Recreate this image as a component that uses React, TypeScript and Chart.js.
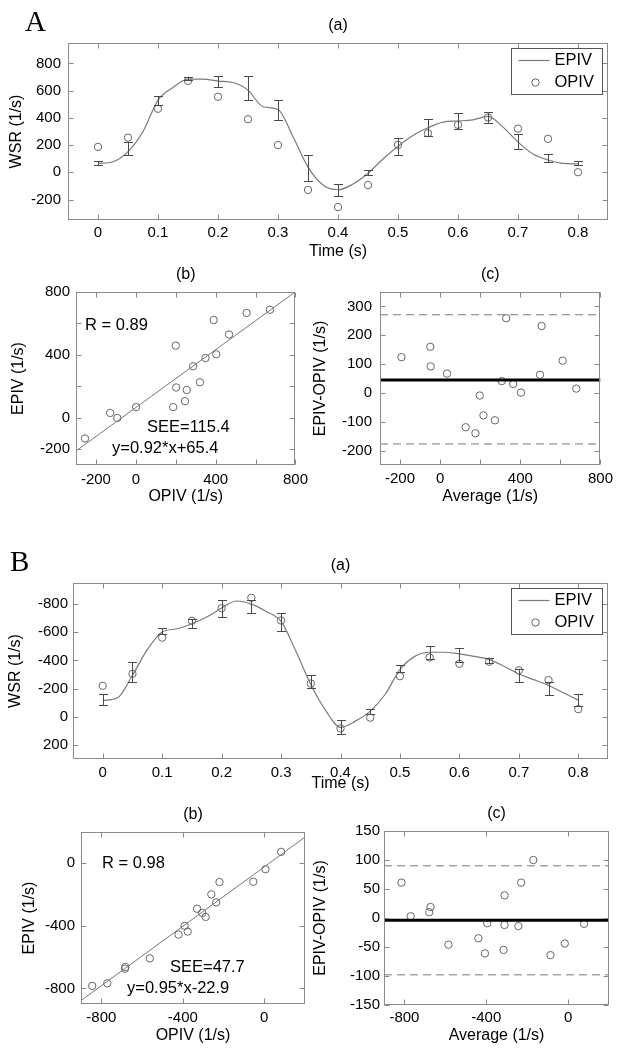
import React, { useEffect, useRef } from "react";
import { Chart, registerables } from "chart.js";

Chart.register(...registerables);

const FONT = "Arial, 'Liberation Sans', Helvetica, sans-serif";
const SERIF = "'Times New Roman', 'Liberation Serif', Times, serif";

// ---------------- data ----------------
const TIME = [0, 0.05, 0.1, 0.15, 0.2, 0.25, 0.3, 0.35, 0.4, 0.45, 0.5, 0.55, 0.6, 0.65, 0.7, 0.75, 0.8];
const CURVE_TIME = [0, 0.025, 0.05, 0.075, 0.1, 0.125, 0.15, 0.175, 0.2, 0.225, 0.25, 0.275, 0.3, 0.325, 0.35, 0.375, 0.4,
  0.425, 0.45, 0.475, 0.5, 0.525, 0.55, 0.575, 0.6, 0.625, 0.65, 0.675, 0.7, 0.725, 0.75, 0.775, 0.8];

// Panel A
const A_OPIV = [187, 255, 467, 672, 555, 390, 200, -129, -255, -93, 202, 287, 349, 403, 321, 246, 1];
const A_EPIV = [68, 177, 530, 687, 667, 622, 459, 31, -131, -1, 193, 328, 380, 404, 226, 106, 68];
const A_EPIV_SD = [16, 46, 33, 10, 42, 88, 76, 93, 42, 15, 62, 63, 59, 41, 55, 31, 15];
const A_EPIV_CURVE = [66, 78, 152, 300, 531, 624, 685, 685, 670, 660, 604, 482, 462, 262, 38, -93, -128,
  -86, -7, 98, 192, 271, 327, 369, 377, 386, 411, 332, 222, 135, 91, 66, 62];
const A_R = "R = 0.89";
const A_SEE = "SEE=115.4";
const A_EQ = "y=0.92*x+65.4";
const A_SLOPE = 0.92;
const A_INTERCEPT = 65.4;
const A_MEAN_DIFF = 45;
const A_LOA_UPPER = 271;
const A_LOA_LOWER = -177;

// Panel B
const B_OPIV = [-220, -305, -562, -682, -771, -845, -684, -236, 83, 6, -288, -421, -376, -391, -330, -260, -54];
const B_EPIV = [-120, -317, -608, -663, -768, -784, -674, -250, 73, -38, -343, -456, -437, -400, -291, -199, -118];
const B_EPIV_SD = [39, 71, 20, 32, 59, 45, 64, 47, 47, 19, 26, 47, 50, 15, 45, 46, 42];
const B_EPIV_CURVE = [-116, -135, -295, -477, -602, -625, -661, -708, -772, -822, -800, -748, -677, -465, -229, -45, 75,
  31, -40, -158, -335, -429, -458, -458, -446, -429, -406, -359, -304, -264, -222, -170, -118];
const B_R = "R = 0.98";
const B_SEE = "SEE=47.7";
const B_EQ = "y=0.95*x-22.9";
const B_SLOPE = 0.95;
const B_INTERCEPT = -22.9;
const B_MEAN_DIFF = -4;
const B_LOA_UPPER = 90;
const B_LOA_LOWER = -98;

// tick lists
const TS_X_TICKS = [0, 0.1, 0.2, 0.3, 0.4, 0.5, 0.6, 0.7, 0.8];
const A_TS_Y_TICKS = [-200, 0, 200, 400, 600, 800];
const A_SC_TICKS = [-200, 0, 200, 400, 600, 800];
const A_SC_LABELS = [-200, 0, 400, 800];
const A_BA_Y_TICKS = [-200, -100, 0, 100, 200, 300];
const B_TS_Y_TICKS = [-800, -600, -400, -200, 0, 200];
const B_SC_TICKS = [-800, -400, 0];
const B_BA_Y_TICKS = [-150, -100, -50, 0, 50, 100, 150];

// ---------------- styling ----------------
const AXIS = "#8a8a8a";
const CURVE = "#7a7a7a";
const MARK = "#666666";
const ERR = "#4a4a4a";
const FITC = "#777777";
const DASHC = "#777777";

const matlabPlugin: any = {
  id: "matlab",
  afterDatasetsDraw(chart: any, _args: any, opts: any) {
    const { ctx, chartArea: ca, scales } = chart;
    const xs = scales.x;
    const ys = scales.y;
    ctx.save();

    // error bars
    if (opts.errorBars) {
      const { xv, yv, ev } = opts.errorBars;
      ctx.strokeStyle = ERR;
      ctx.lineWidth = 1;
      for (let i = 0; i < xv.length; i++) {
        const px = Math.round(xs.getPixelForValue(xv[i])) + 0.5;
        const y1 = Math.round(ys.getPixelForValue(yv[i] - ev[i])) + 0.5;
        const y2 = Math.round(ys.getPixelForValue(yv[i] + ev[i])) + 0.5;
        ctx.beginPath();
        ctx.moveTo(px, y1);
        ctx.lineTo(px, y2);
        ctx.moveTo(px - 4.5, y1);
        ctx.lineTo(px + 4.5, y1);
        ctx.moveTo(px - 4.5, y2);
        ctx.lineTo(px + 4.5, y2);
        ctx.stroke();
      }
    }

    // box
    const L = Math.round(ca.left) + 0.5;
    const T = Math.round(ca.top) + 0.5;
    const R = Math.round(ca.right) - 0.5;
    const B = Math.round(ca.bottom) - 0.5;
    ctx.strokeStyle = AXIS;
    ctx.lineWidth = 1;
    ctx.strokeRect(L, T, R - L, B - T);
    // inward ticks on all four sides
    const tl = 5;
    ctx.beginPath();
    for (const t of xs.ticks) {
      const p = Math.round(xs.getPixelForValue(t.value)) + 0.5;
      ctx.moveTo(p, B);
      ctx.lineTo(p, B - tl);
      ctx.moveTo(p, T);
      ctx.lineTo(p, T + tl);
    }
    for (const t of ys.ticks) {
      const p = Math.round(ys.getPixelForValue(t.value)) + 0.5;
      ctx.moveTo(L, p);
      ctx.lineTo(L + tl, p);
      ctx.moveTo(R, p);
      ctx.lineTo(R - tl, p);
    }
    ctx.stroke();

    // panel title
    ctx.fillStyle = "#000";
    if (opts.title) {
      ctx.font = `16px ${FONT}`;
      ctx.textAlign = "center";
      ctx.textBaseline = "middle";
      ctx.fillText(opts.title, (ca.left + ca.right) / 2, ca.top - 17);
    }

    // big panel letter
    if (opts.letter) {
      ctx.font = `29px ${SERIF}`;
      ctx.textAlign = "left";
      ctx.textBaseline = "alphabetic";
      ctx.fillText(opts.letter.text, opts.letter.x, opts.letter.y);
    }

    // annotations
    if (opts.notes) {
      ctx.font = `16.5px ${FONT}`;
      ctx.textAlign = "left";
      ctx.textBaseline = "middle";
      for (const n of opts.notes) ctx.fillText(n.text, ca.left + n.dx, ca.top + n.dy);
    }

    // legend box
    if (opts.legend) {
      const ds = chart.data.datasets;
      const bw = 91;
      const bh = 46;
      const bx = Math.round(ca.right - 6 - bw) + 0.5;
      const by = Math.round(ca.top + 5) + 0.5;
      ctx.fillStyle = "#fff";
      ctx.fillRect(bx, by, bw, bh);
      ctx.strokeStyle = "#555";
      ctx.lineWidth = 1;
      ctx.strokeRect(bx, by, bw, bh);
      const r1 = by + 12;
      const r2 = by + 34;
      ctx.strokeStyle = CURVE;
      ctx.lineWidth = 1.2;
      ctx.beginPath();
      ctx.moveTo(bx + 7, r1);
      ctx.lineTo(bx + 38, r1);
      ctx.stroke();
      ctx.strokeStyle = MARK;
      ctx.lineWidth = 1;
      ctx.beginPath();
      ctx.arc(bx + 24, r2, 3.7, 0, Math.PI * 2);
      ctx.stroke();
      ctx.fillStyle = "#000";
      ctx.font = `16.5px ${FONT}`;
      ctx.textAlign = "left";
      ctx.textBaseline = "middle";
      ctx.fillText(ds[0].label, bx + 43, r1);
      ctx.fillText(ds[1].label, bx + 43, r2);
    }
    ctx.restore();
  },
};

function fmt(v: number) {
  return String(v);
}

function scaleOpts(o: any) {
  return {
    type: "linear",
    min: o.min,
    max: o.max,
    reverse: !!o.reverse,
    grid: { display: false, drawTicks: false, tickLength: 0 },
    border: { display: false },
    ticks: {
      autoSkip: false,
      maxRotation: 0,
      padding: o.pad,
      color: "#000",
      font: { family: FONT, size: 15 },
      callback: (v: number) => (o.labels ? (o.labels.includes(v) ? fmt(v) : "") : fmt(v)),
    },
    afterBuildTicks: (s: any) => {
      s.ticks = o.ticks.map((v: number) => ({ value: v }));
    },
    afterFit: (s: any) => {
      if (o.axis === "x") s.height = o.size;
      else s.width = o.size;
    },
    title: {
      display: true,
      text: o.title,
      padding: 0,
      color: "#000",
      font: { family: FONT, size: 16 },
    },
  };
}

function baseOptions(p: any, x: any, y: any, pluginOpts: any) {
  return {
    animation: false,
    responsive: false,
    maintainAspectRatio: false,
    devicePixelRatio: 1,
    layout: { padding: { left: 0, top: p.padT, right: p.padR, bottom: 0 } },
    plugins: {
      legend: { display: false },
      tooltip: { enabled: false },
      matlab: pluginOpts,
    },
    scales: {
      x: scaleOpts({ ...x, axis: "x", size: p.xH }),
      y: scaleOpts({ ...y, axis: "y", size: p.yW }),
    },
  };
}

function timeSeriesConfig(p: any, d: any) {
  return {
    type: "line",
    data: {
      datasets: [
        {
          label: "EPIV",
          data: CURVE_TIME.map((t, i) => ({ x: t, y: d.curve[i] })),
          borderColor: CURVE,
          borderWidth: 1.2,
          pointRadius: 0,
          tension: 0.4,
          cubicInterpolationMode: "monotone",
          fill: false,
        },
        {
          label: "OPIV",
          data: TIME.map((t, i) => ({ x: t, y: d.opiv[i] })),
          showLine: false,
          pointStyle: "circle",
          pointRadius: 3.7,
          borderWidth: 1,
          borderColor: MARK,
          backgroundColor: "rgba(0,0,0,0)",
        },
      ],
    },
    options: baseOptions(
      p,
      { min: -0.05, max: 0.85, ticks: TS_X_TICKS, pad: p.xPad, title: "Time (s)" },
      { min: d.yMin, max: d.yMax, reverse: d.reverse, ticks: d.yTicks, pad: p.yPad, title: "WSR (1/s)" },
      {
        title: "(a)",
        letter: d.letter,
        legend: true,
        errorBars: { xv: TIME, yv: d.epiv, ev: d.sd },
      }
    ),
    plugins: [matlabPlugin],
  };
}

function scatterConfig(p: any, d: any) {
  return {
    type: "line",
    data: {
      datasets: [
        {
          label: "fit",
          data: [
            { x: d.min, y: d.slope * d.min + d.intercept },
            { x: d.max, y: d.slope * d.max + d.intercept },
          ],
          borderColor: FITC,
          borderWidth: 1,
          pointRadius: 0,
          fill: false,
        },
        {
          label: "EPIV vs OPIV",
          data: d.opiv.map((o: number, i: number) => ({ x: o, y: d.epiv[i] })),
          showLine: false,
          pointStyle: "circle",
          pointRadius: 3.7,
          borderWidth: 1,
          borderColor: MARK,
          backgroundColor: "rgba(0,0,0,0)",
        },
      ],
    },
    options: baseOptions(
      p,
      { min: d.min, max: d.max, ticks: d.ticks, labels: d.labels, pad: p.xPad, title: "OPIV (1/s)" },
      { min: d.min, max: d.max, ticks: d.yTicks || d.ticks, labels: d.yLabels || d.labels, pad: p.yPad, title: "EPIV (1/s)" },
      { title: "(b)", notes: d.notes }
    ),
    plugins: [matlabPlugin],
  };
}

function blandAltmanConfig(p: any, d: any) {
  const avg = d.opiv.map((o: number, i: number) => (o + d.epiv[i]) / 2);
  const diff = d.opiv.map((o: number, i: number) => d.epiv[i] - o);
  const hline = (v: number) => [
    { x: d.xMin, y: v },
    { x: d.xMax, y: v },
  ];
  return {
    type: "line",
    data: {
      datasets: [
        { label: "mean", data: hline(d.mean), borderColor: "#000", borderWidth: 3, pointRadius: 0, fill: false },
        { label: "+1.96SD", data: hline(d.upper), borderColor: DASHC, borderWidth: 1, borderDash: [8, 5], pointRadius: 0, fill: false },
        { label: "-1.96SD", data: hline(d.lower), borderColor: DASHC, borderWidth: 1, borderDash: [8, 5], pointRadius: 0, fill: false },
        {
          label: "difference",
          data: avg.map((a: number, i: number) => ({ x: a, y: diff[i] })),
          showLine: false,
          pointStyle: "circle",
          pointRadius: 3.7,
          borderWidth: 1,
          borderColor: MARK,
          backgroundColor: "rgba(0,0,0,0)",
        },
      ],
    },
    options: baseOptions(
      p,
      { min: d.xMin, max: d.xMax, ticks: d.xTicks, labels: d.xLabels, pad: p.xPad, title: "Average (1/s)" },
      { min: d.yMin, max: d.yMax, ticks: d.yTicks, pad: p.yPad, title: "EPIV-OPIV (1/s)" },
      { title: "(c)" }
    ),
    plugins: [matlabPlugin],
  };
}

// ---------------- panels (layout geometry) ----------------
const PANELS: any[] = [
  {
    key: "Aa",
    area: [68, 43, 608, 220], yW: 61, xH: 41, padT: 43, padR: 8, xPad: 4, yPad: 7,
    build: (p: any) =>
      timeSeriesConfig(p, {
        curve: A_EPIV_CURVE, opiv: A_OPIV, epiv: A_EPIV, sd: A_EPIV_SD,
        yMin: -350, yMax: 950, reverse: false, yTicks: A_TS_Y_TICKS,
        letter: { text: "A", x: 25 - 7, y: 30.5 },
      }),
  },
  {
    key: "Ab",
    area: [76, 292, 298, 465], yW: 67, xH: 41, padT: 30, padR: 16, xPad: 6, yPad: 6,
    build: (p: any) =>
      scatterConfig(p, {
        opiv: A_OPIV, epiv: A_EPIV, min: -300, max: 800, ticks: A_SC_TICKS, labels: A_SC_LABELS,
        slope: A_SLOPE, intercept: A_INTERCEPT,
        notes: [
          { text: A_R, dx: 9, dy: 33 },
          { text: A_SEE, dx: 71, dy: 135 },
          { text: A_EQ, dx: 36, dy: 156 },
        ],
      }),
  },
  {
    key: "Ac",
    area: [380, 292, 602, 465], yW: 69, xH: 41, padT: 30, padR: 16, xPad: 5, yPad: 8,
    build: (p: any) =>
      blandAltmanConfig(p, {
        opiv: A_OPIV, epiv: A_EPIV, xMin: -300, xMax: 800, xTicks: A_SC_TICKS, xLabels: A_SC_LABELS,
        yMin: -250, yMax: 350, yTicks: A_BA_Y_TICKS,
        mean: A_MEAN_DIFF, upper: A_LOA_UPPER, lower: A_LOA_LOWER,
      }),
  },
  {
    key: "Ba",
    area: [73, 583, 608, 759], yW: 67, xH: 34, padT: 40, padR: 8, xPad: 5, yPad: 5,
    build: (p: any) =>
      timeSeriesConfig(p, {
        curve: B_EPIV_CURVE, opiv: B_OPIV, epiv: B_EPIV, sd: B_EPIV_SD,
        yMin: -950, yMax: 300, reverse: true, yTicks: B_TS_Y_TICKS,
        letter: { text: "B", x: 10 - 6, y: 570.5 - 543 },
      }),
  },
  {
    key: "Bb",
    area: [81, 832, 305, 1004], yW: 61, xH: 41, padT: 30, padR: 12, xPad: 5, yPad: 6,
    build: (p: any) =>
      scatterConfig(p, {
        opiv: B_OPIV, epiv: B_EPIV, min: -900, max: 200, ticks: B_SC_TICKS,
        slope: B_SLOPE, intercept: B_INTERCEPT,
        notes: [
          { text: B_R, dx: 21, dy: 31 },
          { text: B_SEE, dx: 89, dy: 135 },
          { text: B_EQ, dx: 46, dy: 156 },
        ],
      }),
  },
  {
    key: "Bc",
    area: [384, 831, 609, 1005], yW: 73, xH: 40, padT: 30, padR: 9, xPad: 4, yPad: 4,
    build: (p: any) =>
      blandAltmanConfig(p, {
        opiv: B_OPIV, epiv: B_EPIV, xMin: -900, xMax: 200, xTicks: B_SC_TICKS,
        yMin: -150, yMax: 150, yTicks: B_BA_Y_TICKS,
        mean: B_MEAN_DIFF, upper: B_LOA_UPPER, lower: B_LOA_LOWER,
      }),
  },
];

function Panel({ spec }: { spec: any }) {
  const ref = useRef<HTMLCanvasElement>(null);
  const [l, t, r, b] = spec.area;
  const left = l - spec.yW;
  const top = t - spec.padT;
  const w = spec.yW + (r - l) + spec.padR;
  const h = spec.padT + (b - t) + spec.xH;
  useEffect(() => {
    const chart = new Chart(ref.current as HTMLCanvasElement, spec.build(spec) as any);
    return () => chart.destroy();
  }, []);
  return (
    <canvas
      ref={ref}
      width={w}
      height={h}
      style={{ position: "absolute", left, top, width: w, height: h, display: "block" }}
    />
  );
}

export default function App() {
  return (
    <div
      style={{
        position: "absolute",
        left: 0,
        top: 0,
        width: 620,
        height: 1050,
        background: "#fff",
        overflow: "hidden",
        fontFamily: FONT,
      }}
    >
      {PANELS.map((p) => (
        <Panel key={p.key} spec={p} />
      ))}
    </div>
  );
}
